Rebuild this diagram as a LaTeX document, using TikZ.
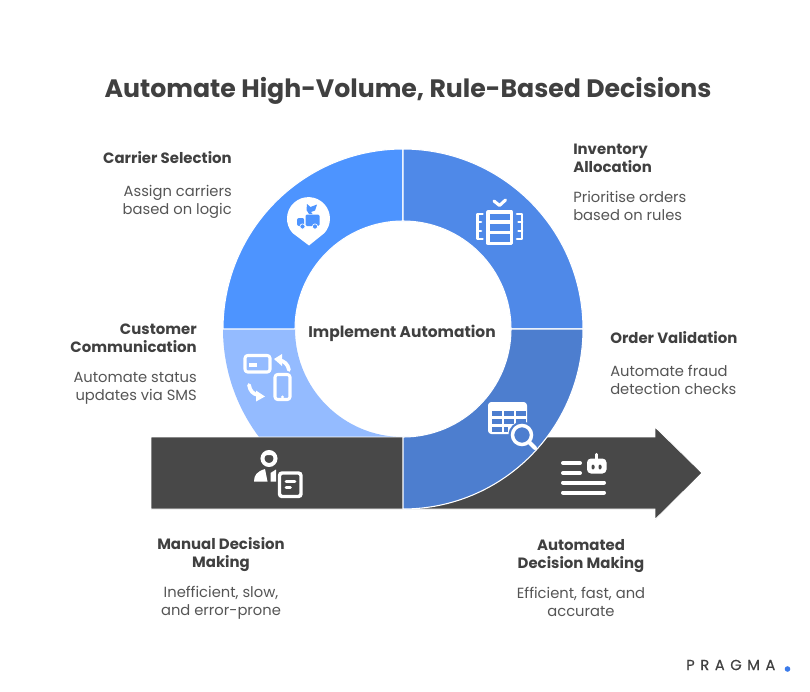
\documentclass[tikz,border=0pt]{standalone}
\usepackage{fontspec}
\setmainfont{Poppins}
\definecolor{dk}{HTML}{484848}
\definecolor{tl}{HTML}{4D94FF}
\definecolor{tr}{HTML}{4F89E8}
\definecolor{br}{HTML}{4D7ECF}
\definecolor{bl}{HTML}{94BBFF}
\definecolor{head}{HTML}{404040}
\definecolor{body}{HTML}{555555}
\definecolor{dot}{HTML}{3B7BEA}
\tikzset{
  wedge/.style={draw=white,line width=0.8pt,line join=round},
  heading/.style={inner sep=0pt,text=head,font=\fontsize{11.2}{13.5}\selectfont\bfseries},
  bodytext/.style={inner sep=0pt,text=body,font=\fontsize{11.05}{13.5}\selectfont},
  iconline/.style={draw=white,line width=2.3pt,line cap=round,line join=round},
  thin icon/.style={draw=white,line width=2pt,line cap=round,line join=round}
}
\begin{document}
\begin{tikzpicture}[x=0.75pt,y=-0.75pt]
\useasboundingbox (0,0) rectangle (810,692);
% ring
\fill[bl] (223,329) arc[start angle=180,end angle=90,radius=180] -- (403,437) arc[start angle=90,end angle=180,radius=108] -- cycle;
\draw[wedge,fill=tl] (223,329) arc[start angle=180,end angle=270,radius=180] -- (403,221) arc[start angle=270,end angle=180,radius=108] -- cycle;
\draw[wedge,fill=tr] (403,149) arc[start angle=270,end angle=360,radius=180] -- (511,329) arc[start angle=360,end angle=270,radius=108] -- cycle;
% arrow
\draw[fill=dk,draw=white,line width=0.6pt] (151,437) -- (655,437) -- (655,427) -- (702,473) -- (655,519.5) -- (655,509) -- (151,509) -- cycle;
\draw[wedge,fill=br] (583,329) arc[start angle=0,end angle=90,radius=180] -- (403,437) arc[start angle=90,end angle=0,radius=108] -- cycle;
% pin icon
\fill[white] (292.5,233) arc[start angle=138,end angle=402,radius=21.5] -- (309,245.5) -- cycle;
\fill[tl,rounded corners=1pt] (305.5,214.5) rectangle (319.5,226);
\fill[tl,rounded corners=1.5pt] (297,218) -- (304.2,218) -- (304.2,226) -- (297,226) -- cycle;
\fill[tl] (302.5,226.5) circle (2.6) (315,226.5) circle (2.6);
\draw[white,line width=0.5pt] (302.5,226.5) circle (2.6) (315,226.5) circle (2.6);
\fill[tl] (307,204) -- (310.5,207) -- (317,204.5) -- (315,210.5) -- (311,212) -- (312.5,214) -- (309,214) -- (306.5,210) -- cycle;
% inventory icon
\draw[iconline] (488,212) rectangle (511.5,243.5);
\draw[iconline] (488,222) -- (511.5,222) (488,232.5) -- (511.5,232.5);
\draw[iconline] (494,201) -- (499.5,205.5) -- (505.5,200);
\draw[thin icon] (482.5,214) -- (477.5,214) -- (477.5,239) -- (482.5,239);
\draw[thin icon] (477.5,222) -- (481,222) (477.5,231) -- (481,231);
\draw[thin icon] (517,214) -- (522,214) -- (522,239) -- (517,239);
\draw[thin icon] (522,222) -- (518.5,222) (522,231) -- (518.5,231);
% communication icon
\draw[iconline,rounded corners=2pt] (245,355.5) rectangle (270,372);
\fill[white] (249,363) rectangle (257,367);
\draw[iconline,rounded corners=2pt] (275,374.5) rectangle (290,399.5);
\fill[white] (282.5,397) circle (1.6);
\draw[line width=2.8pt,draw=white,line cap=round] (289,370) .. controls (288,364) and (284,361) .. (279,360);
\fill[white] (274,359) -- (282,354) -- (282,366) -- cycle;
\draw[line width=2.8pt,draw=white,line cap=round] (249,385) .. controls (250,391) and (253,394) .. (258,395);
\fill[white] (265,396.5) -- (256,390.5) -- (256,401.5) -- cycle;
% search icon
\fill[white,rounded corners=2.5pt] (488,402) rectangle (527,434);
\foreach \cx in {492,504,516}{\foreach \cy in {410.5,418.5}{\fill[br] (\cx,\cy) rectangle +(9.5,5);}}
\fill[br] (492,426.5) rectangle +(9.5,5);
\fill[br] (504,426.5) rectangle +(4,5);
\fill[br] (522,435) circle (13.5);
\draw[draw=white,line width=2.6pt] (522,435) circle (9.5);
\draw[draw=white,line width=3pt,line cap=round] (529,442) -- (535,448);
% person icon
\draw[draw=white,line width=3pt] (269,458.5) circle (6.5);
\fill[white] (263,456.5) .. controls (266,454.5) and (272,454.5) .. (275,456.5) .. controls (274,452) and (264,452) .. (263,456.5) -- cycle;
\fill[white] (254,481.5) .. controls (254,475) and (257,471.5) .. (265,469) -- (267.5,481.5) -- cycle;
\fill[white] (270.5,481.5) -- (270.5,473) -- (276,469.5) -- (276,481.5) -- cycle;
\draw[draw=white,line width=2.6pt,rounded corners=2pt,fill=dk] (279.5,473) rectangle (301,496.5);
\draw[thin icon] (286,481.5) -- (295,481.5) (286,487.5) -- (290.5,487.5);
% automated icon
\draw[draw=white,line width=3pt,line cap=round] (563,463) -- (580,463) (563,473) -- (580,473) (563,482.5) -- (604,482.5) (563,492.5) -- (604,492.5);
\fill[white,rounded corners=3pt] (587,458.5) rectangle (606.5,473.5);
\draw[draw=white,line width=2.4pt,line cap=round] (596.5,454.5) -- (596.5,459);
\fill[dk,rounded corners=1pt] (591.5,464.5) rectangle +(3,5);
\fill[dk,rounded corners=1pt] (598.5,464.5) rectangle +(3,5);
% texts
\node[inner sep=0pt,text=head,font=\fontsize{18.9}{22}\selectfont\bfseries] (title) at (408,91) {Automate High-Volume, Rule-Based Decisions};
\node[heading,anchor=east] (carrier) at (232,157.5) {Carrier Selection};
\node[bodytext,anchor=east,align=right] (carrierb) at (232,202) {Assign carriers\\based on logic};
\node[heading,anchor=west,align=left] (inv) at (573,158) {Inventory\\Allocation};
\node[bodytext,anchor=west,align=left] (invb) at (573,206) {Prioritise orders\\based on rules};
\node[heading,anchor=east,align=right] (cust) at (197,338) {Customer\\Communication};
\node[bodytext,anchor=east,align=right] (custb) at (197,388) {Automate status\\updates via SMS};
\node[heading,anchor=west] (order) at (610,337.5) {Order Validation};
\node[bodytext,anchor=west,align=left] (orderb) at (610,380) {Automate fraud\\detection checks};
\node[heading,align=center] (man) at (221,555) {Manual Decision\\Making};
\node[bodytext,align=center] (manb) at (221,603) {Inefficient, slow,\\and error-prone};
\node[heading,align=center] (auto) at (581,556) {Automated\\Decision Making};
\node[bodytext,align=center] (autob) at (581,602) {Efficient, fast, and\\accurate};
\node[inner sep=0pt,text=head,font=\fontsize{11.6}{14}\selectfont\bfseries] (center) at (402,333) {Implement Automation};
\node[inner sep=0pt,anchor=west,text=head,font=\fontsize{11}{12}\selectfont\addfontfeature{LetterSpace=38,FakeBold=0.4}] (logo) at (686,665) {PRAGMA};
\fill[dot] (787.5,669) circle (2.8);
\end{tikzpicture}
\end{document}
